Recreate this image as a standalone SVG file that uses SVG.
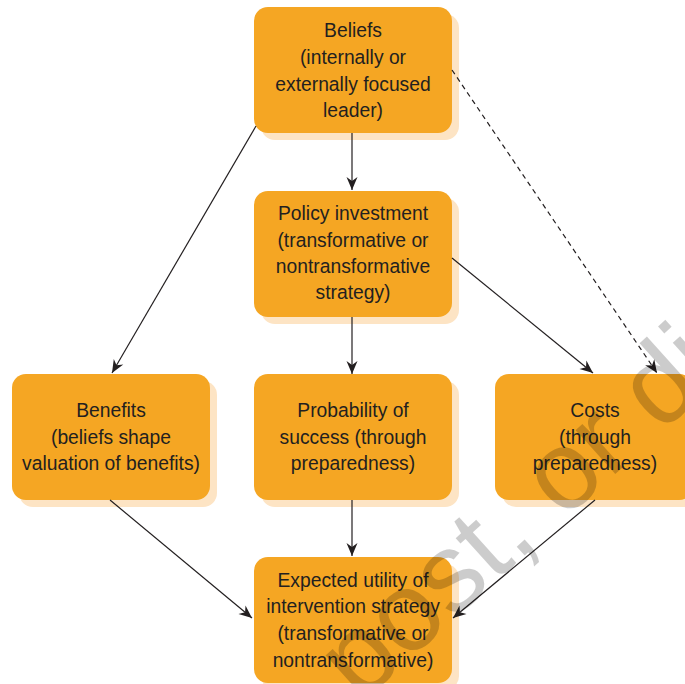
<svg xmlns="http://www.w3.org/2000/svg" width="685" height="684" viewBox="0 0 685 684">
<defs>
<style>
.box{fill:#F5A623;}
.sh{fill:#FDE4C4;}
.t{font-family:"Liberation Sans",Arial,Helvetica,sans-serif;font-size:19.3px;fill:#231f20;text-anchor:middle;}
.c{stroke:#231f20;stroke-width:1.2;fill:none;marker-end:url(#ah);}
.d{stroke-dasharray:5 4;}
.wm{font-family:"Liberation Sans",Arial,Helvetica,sans-serif;font-size:112px;fill:#000;fill-opacity:0.2;}
</style>
<marker id="ah" viewBox="-14 -6 15 12" refX="0" refY="0" markerWidth="15" markerHeight="12" markerUnits="userSpaceOnUse" orient="auto">
<path d="M0,0 L-13,-5.5 L-9,0 L-13,5.5 Z" fill="#231f20"/>
</marker>
</defs>
<rect width="685" height="684" fill="#fff"/>
<g id="beliefs">
<rect class="sh" x="261" y="14" width="198" height="126" rx="14"/>
<rect class="box" x="254" y="7" width="198" height="126" rx="14"/>
<text class="t" x="353" y="37">Beliefs</text>
<text class="t" x="353" y="64">(internally or</text>
<text class="t" x="353" y="91">externally focused</text>
<text class="t" x="353" y="117">leader)</text>
</g>
<g id="policy">
<rect class="sh" x="261" y="198" width="198" height="126" rx="14"/>
<rect class="box" x="254" y="191" width="198" height="126" rx="14"/>
<text class="t" x="353" y="220">Policy investment</text>
<text class="t" x="353" y="247">(transformative or</text>
<text class="t" x="353" y="273">nontransformative</text>
<text class="t" x="353" y="299">strategy)</text>
</g>
<g id="benefits">
<rect class="sh" x="19" y="381" width="198" height="126" rx="14"/>
<rect class="box" x="12" y="374" width="198" height="126" rx="14"/>
<text class="t" x="111" y="417">Benefits</text>
<text class="t" x="111" y="444">(beliefs shape</text>
<text class="t" x="111" y="470">valuation of benefits)</text>
</g>
<g id="probability">
<rect class="sh" x="261" y="381" width="198" height="126" rx="14"/>
<rect class="box" x="254" y="374" width="198" height="126" rx="14"/>
<text class="t" x="353" y="417">Probability of</text>
<text class="t" x="353" y="444">success (through</text>
<text class="t" x="353" y="470">preparedness)</text>
</g>
<g id="costs">
<rect class="sh" x="502" y="381" width="198" height="126" rx="14"/>
<rect class="box" x="495" y="374" width="198" height="126" rx="14"/>
<text class="t" x="595" y="417">Costs</text>
<text class="t" x="595" y="444">(through</text>
<text class="t" x="595" y="470">preparedness)</text>
</g>
<g id="expected">
<rect class="sh" x="261" y="564" width="198" height="126" rx="14"/>
<rect class="box" x="254" y="557" width="198" height="126" rx="14"/>
<text class="t" x="353" y="587">Expected utility of</text>
<text class="t" x="353" y="613">intervention strategy</text>
<text class="t" x="353" y="640">(transformative or</text>
<text class="t" x="353" y="667">nontransformative)</text>
</g>
<g id="connectors">
<line class="c" x1="352" y1="133" x2="352" y2="190"/>
<line class="c" x1="352" y1="317" x2="352" y2="374"/>
<line class="c" x1="352" y1="500" x2="352" y2="556"/>
<line class="c" x1="256" y1="126" x2="112" y2="373"/>
<line class="c d" x1="452" y1="70" x2="657" y2="373"/>
<line class="c" x1="452" y1="258" x2="593" y2="373"/>
<line class="c" x1="110" y1="500" x2="252" y2="618"/>
<line class="c" x1="595" y1="500" x2="453" y2="618"/>
</g>
<g id="watermark" transform="translate(522,558) rotate(-42)">
<text class="wm" x="-870" y="0">Do not copy, post, or distribute</text>
</g>
</svg>
